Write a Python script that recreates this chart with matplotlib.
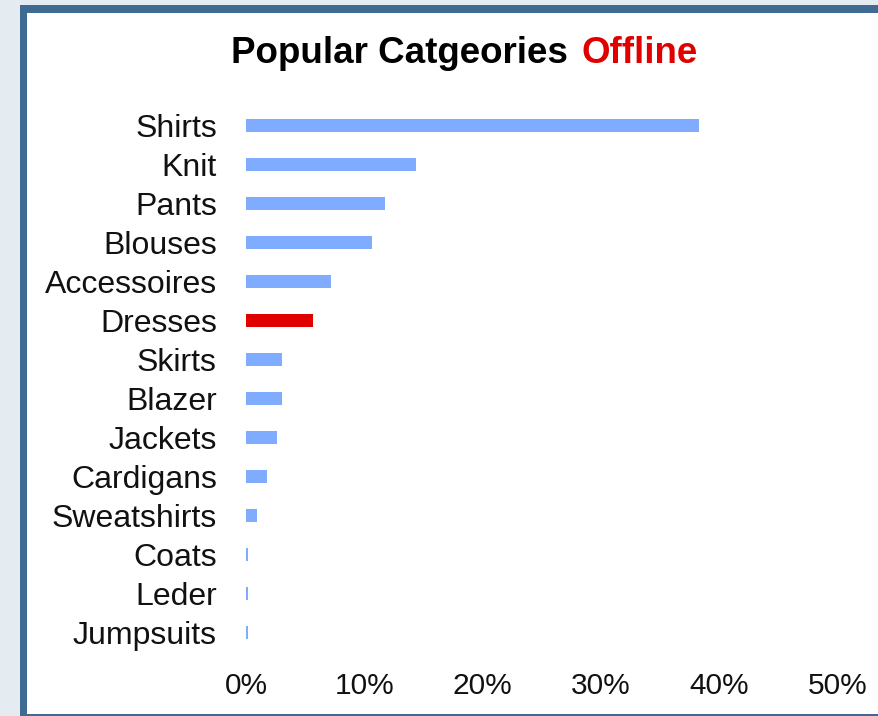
import matplotlib
matplotlib.use("Agg")
import matplotlib.pyplot as plt
from matplotlib.patches import Rectangle
from matplotlib.ticker import PercentFormatter

# data (share in %)
categories = ["Shirts", "Knit", "Pants", "Blouses", "Accessoires", "Dresses",
              "Skirts", "Blazer", "Jackets", "Cardigans", "Sweatshirts",
              "Coats", "Leder", "Jumpsuits"]
values = [38.3, 14.4, 11.7, 10.6, 7.2, 5.7, 3.0, 3.0, 2.6, 1.8, 0.9, 0.15, 0.15, 0.15]
highlight = "Dresses"

BLUE = "#80acff"
RED = "#e00000"

plt.rcParams["font.family"] = ["Liberation Sans", "DejaVu Sans"]

W, H = 879, 716
fig = plt.figure(figsize=(W / 100, H / 100), dpi=100)
fig.patch.set_facecolor("#e4ecf1")

# frame: dark blue border + white panel
fig.patches.append(Rectangle((20 / W, 0), 2, (H - 5) / H, transform=fig.transFigure,
                             facecolor="#3f6a92", edgecolor="none", zorder=-2))
fig.patches.append(Rectangle((27 / W, 2 / H), 2, (714 - 13) / H, transform=fig.transFigure,
                             facecolor="white", edgecolor="none", zorder=-1))

ax = fig.add_axes([246 / W, 1 - 651.5 / H, 592 / W, 545 / H])
ax.set_zorder(2)
ax.set_facecolor("none")

colors = [RED if c == highlight else BLUE for c in categories]
ypos = list(range(len(categories)))
ax.barh(ypos, values, height=0.335, color=colors)
ax.set_yticks(ypos)
ax.set_yticklabels(categories)
ax.set_ylim(len(categories) - 0.5, -0.5)
ax.set_xlim(0, 50)
ax.set_xticks([0, 10, 20, 30, 40, 50])
ax.xaxis.set_major_formatter(PercentFormatter(decimals=0))

for s in ax.spines.values():
    s.set_visible(False)
ax.tick_params(axis="y", length=0, pad=21, labelsize=23, colors="#111111")
ax.tick_params(axis="x", length=0, pad=15, labelsize=21.5, colors="#111111")

# two-colour title
ty = 1 - 63 / H
fig.text(568 / W, ty, "Popular Catgeories", ha="right", va="baseline",
         fontsize=26.5, fontweight="bold", color="black", zorder=3)
fig.text(582 / W, ty, "Offline", ha="left", va="baseline",
         fontsize=26.5, fontweight="bold", color=RED, zorder=3)

fig.savefig("out.png", dpi=100, facecolor=fig.get_facecolor())
